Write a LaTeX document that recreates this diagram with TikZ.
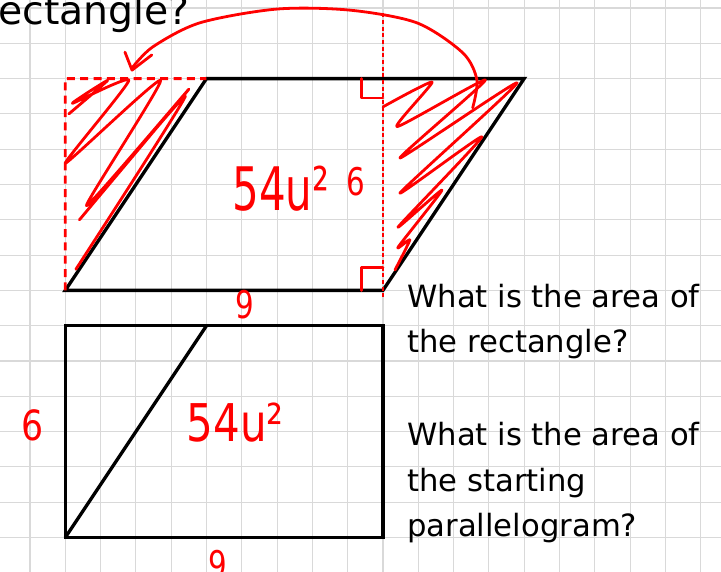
\documentclass[tikz,border=0pt]{standalone}
\usepackage{fontspec}
\setmainfont{DejaVu Sans}

\begin{document}
\begin{tikzpicture}[scale=0.9305,
  gridline/.style={gray!30, line width=0.8pt},
  edge/.style={black, line width=2.5pt, line join=miter},
  ink/.style={red, line width=2.1pt, line cap=round, line join=round},
  hand/.style={red, inner sep=0pt, font=\fontsize{#1}{#1}\selectfont},
  qtext/.style={anchor=base west, inner sep=0pt, font=\fontsize{23}{23}\selectfont}]

\useasboundingbox (-0.85,0.227) rectangle (19.575,-15.977);
\clip (-0.85,0.227) rectangle (19.575,-15.977);

%--- Сетка ---
\draw[gridline] (-0.85,0.227) grid (19.575,-15.977);

%--- Параллелограмм ---
\coordinate (pA) at (1,-8);
\coordinate (pB) at (10,-8);
\coordinate (pC) at (14,-2);
\coordinate (pD) at (5,-2);
\draw[edge] (pA) -- (pB) -- (pC) -- (pD) -- cycle;

%--- Прямоугольник ---
\coordinate (rA) at (1,-15);
\coordinate (rB) at (10,-15);
\coordinate (rC) at (10,-9);
\coordinate (rD) at (1,-9);
\draw[edge] (rA) rectangle (rC);
\draw[edge] (rA) -- (5,-9);

%--- Штриховка треугольников ---
\draw[ink] plot[smooth,tension=0.35] coordinates {(1.1,-3.0) (2.2,-2.05) (1.2,-2.7)
  (2.8,-2.05) (1.0,-4.4) (3.7,-2.05) (1.6,-5.6) (4.5,-2.3) (1.4,-6.0) (4.4,-2.5) (1.3,-7.4)};
\draw[ink] plot[smooth,tension=0.35] coordinates {(10.0,-2.8) (11.39,-2.1) (10.4,-3.36)
  (12.9,-2.04) (10.48,-4.25) (13.8,-2.12) (10.48,-5.24) (12.8,-3.65) (10.43,-6.2)
  (11.67,-5.16) (10.43,-6.77) (10.76,-6.57) (10.34,-7.42)};

%--- Пунктир и высота ---
\draw[ink,line cap=butt,dash pattern=on 6pt off 4pt] (pA) -- (1,-2) -- (pD);
\draw[ink,line cap=butt,line width=1.6pt,dash pattern=on 3pt off 2pt] (10,-0.15) -- (10,-8.2);
\draw[ink] (9.38,-2) -- (9.38,-2.55) -- (10,-2.55);
\draw[ink] (9.38,-8) -- (9.38,-7.35) -- (10,-7.35);

%--- Дуга-стрелка ---
\draw[ink] plot[smooth,tension=0.5] coordinates {(12.54,-2.83) (12.66,-2.04)
  (12.26,-1.27) (10.96,-0.42) (9.06,-0.06) (6.99,-0.03) (4.81,-0.42)
  (3.48,-1.10) (2.89,-1.70)};
\draw[ink] (2.69,-1.25) -- (2.89,-1.76) -- (3.45,-1.33);

%--- Подписи ---
\node[hand=30] (areaP) at (7.11,-5.13) {\scalebox{1.05}[1.5]{54u²}};
\node[hand=30] (areaR) at (5.81,-11.73) {\scalebox{1.05}[1.3]{54u²}};
\node[hand=22] (hP) at (9.23,-4.93) {\scalebox{1}[1.3]{6}};
\node[hand=22] (bP) at (6.09,-8.41) {\scalebox{1}[1.3]{9}};
\node[hand=26] (hR) at (0.06,-11.81) {\scalebox{1}[1.2]{6}};
\node[hand=22] (bR) at (5.33,-15.78) {\scalebox{1}[1.3]{9}};

%--- Вопросы ---
\node[font=\fontsize{29.5}{29.5}\selectfont, anchor=base east, inner sep=0pt] (title)
  at (4.53,-0.48) {rectangle?};
\foreach \yy/\txt [count=\i] in {8.49/What is the area of, 9.77/the rectangle?,
  12.40/What is the area of, 13.70/the starting, 14.98/parallelogram?}
  \node[qtext] (q\i) at (10.68,-\yy) {\txt};

\end{tikzpicture}
\end{document}
